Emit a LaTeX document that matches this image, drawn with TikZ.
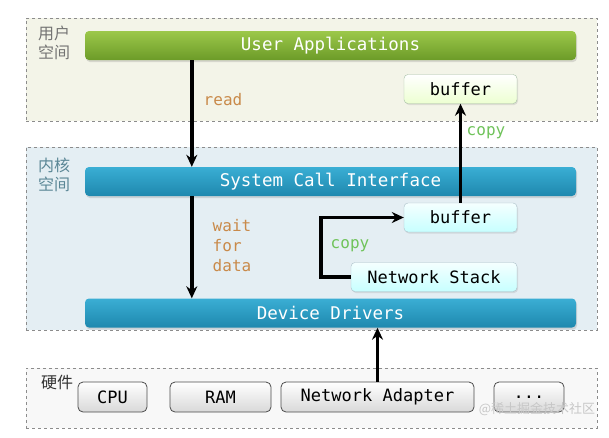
\documentclass[tikz,border=0pt]{standalone}
\usepackage{fontspec}
\setmonofont{DejaVu Sans Mono}
\newfontfamily\cjk{Noto Sans CJK SC}
\usepackage{xcolor}
\usetikzlibrary{arrows.meta,positioning,shadows}

\definecolor{userfill}{HTML}{F3F4E8}
\definecolor{kernfill}{HTML}{E4EEF3}
\definecolor{hwfill}{HTML}{F8F8F8}
\definecolor{greentop}{HTML}{9CC84A}
\definecolor{greenbot}{HTML}{6C9B28}
\definecolor{bluetop}{HTML}{3AAED4}
\definecolor{bluebot}{HTML}{1E88AE}
\definecolor{readcol}{HTML}{C98A4A}
\definecolor{copycol}{HTML}{6FC35A}
\definecolor{kernlblcol}{HTML}{5B8796}

\tikzset{
  region/.style={draw=black!45,dashed,line width=0.9pt,minimum width=571pt},
  bar/.style={rounded corners=4pt,minimum width=491pt,minimum height=29pt,text=white,
    font=\ttfamily\fontsize{17.5}{20}\selectfont,
    drop shadow={opacity=0.25,shadow xshift=1pt,shadow yshift=-2pt}},
  bufbox/.style={rounded corners=4pt,minimum height=29pt,text=black,
    font=\ttfamily\fontsize{17}{20}\selectfont,
    drop shadow={opacity=0.2,shadow xshift=1pt,shadow yshift=-1.5pt}},
  hwbox/.style={draw=black!70,rounded corners=5pt,minimum height=30pt,line width=0.8pt,
    top color=white,bottom color=black!15,font=\ttfamily\fontsize{17}{20}\selectfont},
  spacelbl/.style={align=left,font=\cjk\fontsize{16}{19}\selectfont},
  note/.style={font=\ttfamily\fontsize{16}{20}\selectfont},
  flow/.style={line width=3.4pt,-{Stealth[length=12pt,width=11pt]}}
}

\begin{document}
\begin{tikzpicture}[x=1pt,y=-1pt]
\useasboundingbox[fill=white] (0,0) rectangle (609,437);

% Regions
\node[region,fill=userfill,minimum height=103pt] (userspace) at (311.5,69.5) {};
\node[region,fill=kernfill,minimum height=183pt] (kernspace) at (311.5,238.5) {};
\node[region,fill=hwfill,minimum height=60pt] (hwspace) at (311.5,398) {};

\node[spacelbl,text=black!55] (userlbl) at (54,43) {用户\\空间};
\node[spacelbl,text=kernlblcol] (kernlbl) at (54,175) {内核\\空间};
\node[spacelbl,text=black!80] (hwlbl) at (57,382) {硬件};

% Bars
\node[bar,top color=greentop,bottom color=greenbot] (userapp) at (330.5,45.5) {User Applications};
\node[bar,top color=bluetop,bottom color=bluebot] (sci) at (330.5,181.5) {System Call Interface};
\node[bar,top color=bluetop,bottom color=bluebot] (dd) at (330.5,313) {Device Drivers};

% Buffers
\node[bufbox,draw=green!30!black!35,top color=white,bottom color=green!40!yellow!18,minimum width=113pt] (ubuf) at (460.5,89) {buffer};
\node[bufbox,draw=cyan!40!black!40,top color=cyan!4,bottom color=cyan!22,minimum width=113pt] (kbuf) at (460.5,217.5) {buffer};
\node[bufbox,draw=cyan!40!black!40,top color=cyan!4,bottom color=cyan!22,minimum width=166pt] (netstack) at (434,277) {Network Stack};

% Hardware
\node[hwbox,minimum width=69pt] (cpu) at (112.5,397) {CPU};
\node[hwbox,minimum width=101pt] (ram) at (220.5,397) {RAM};
\node[hwbox,minimum width=193pt] (adapter) at (377.5,397) {Network Adapter};
\node[hwbox,minimum width=70pt] (more) at (529,397) {...};

% Flows
\draw[flow] ([xshift=107pt]userapp.south west) -- ([xshift=107pt]sci.north west);
\draw[flow] ([xshift=107pt]sci.south west) -- ([xshift=107pt]dd.north west);
\draw[flow] (kbuf.north) -- (ubuf.south);
\draw[flow] (netstack.west) -- ++(-30,0) |- (kbuf.west);
\draw[flow] (adapter.north) -- (adapter.north |- dd.south);

% Labels
\node[note,text=readcol] (readlbl) at (223,100) {read};
\node[note,text=readcol,align=left] (waitlbl) at (232,246) {wait\\for\\data};
\node[note,text=copycol] (copyup) at (486,133) {copy};
\node[note,text=copycol] (copyloop) at (350,246) {copy};

\node[text=black!22,font=\cjk\fontsize{13}{15}\selectfont] (mark) at (537,409) {@稀土掘金技术社区};
\end{tikzpicture}
\end{document}
